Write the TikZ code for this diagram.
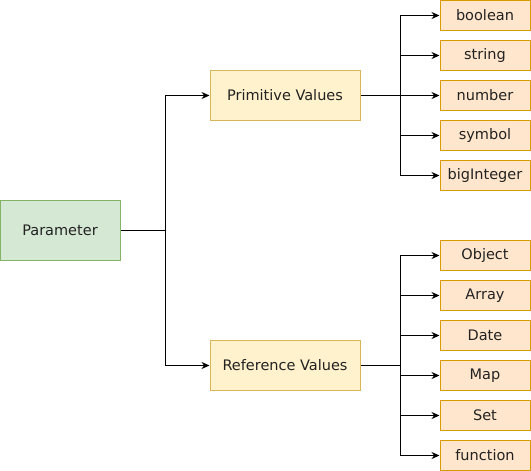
\documentclass[tikz,border=0pt]{standalone}
\usepackage{fontspec}
\setmainfont{DejaVu Sans}
\usetikzlibrary{arrows.meta}
\definecolor{gfill}{HTML}{D5E8D4}
\definecolor{gline}{HTML}{82B366}
\definecolor{yfill}{HTML}{FFF2CC}
\definecolor{yline}{HTML}{D6B656}
\definecolor{ofill}{HTML}{FFE6CC}
\definecolor{oline}{HTML}{D79B00}
\definecolor{txt}{HTML}{222222}
\begin{document}
\begin{tikzpicture}[x=1pt,y=-1pt,
  base/.style={draw,line width=1pt,inner sep=0pt,font=\fontsize{14.5}{17}\selectfont,text=txt},
  rootbox/.style={base,fill=gfill,draw=gline,minimum width=120pt,minimum height=60pt},
  midbox/.style={base,fill=yfill,draw=yline,minimum width=150pt,minimum height=50pt},
  leafbox/.style={base,fill=ofill,draw=oline,minimum width=90pt,minimum height=30pt},
  conn/.style={line width=1pt,-{Stealth[length=8pt,width=7pt]}},
  plain/.style={line width=1pt}]
\useasboundingbox (0,0) rectangle (531,471);
\node[rootbox] (param) at (60,230.5) {Parameter};
\node[midbox] (prim) at (285,95.5) {Primitive Values};
\node[midbox] (ref) at (285,365.5) {Reference Values};
\node[leafbox] (boolean) at (485,15.5) {boolean};
\node[leafbox] (string) at (485,55.5) {string};
\node[leafbox] (number) at (485,95.5) {number};
\node[leafbox] (symbol) at (485,135.5) {symbol};
\node[leafbox] (bigint) at (485,175.5) {bigInteger};
\node[leafbox] (object) at (485,255.5) {Object};
\node[leafbox] (array) at (485,295.5) {Array};
\node[leafbox] (date) at (485,335.5) {Date};
\node[leafbox] (map) at (485,375.5) {Map};
\node[leafbox] (set) at (485,415.5) {Set};
\node[leafbox] (func) at (485,455.5) {function};
\coordinate (j1) at (165,230.5);
\coordinate (j2) at (400,95.5);
\coordinate (j3) at (400,365.5);
\draw[plain] (param.east) -- (j1);
\draw[conn] (j1) |- (prim.west);
\draw[conn] (j1) |- (ref.west);
\draw[plain] (prim.east) -- (j2);
\foreach \n in {boolean,string,number,symbol,bigint} \draw[conn] (j2) |- (\n.west);
\draw[plain] (ref.east) -- (j3);
\foreach \n in {object,array,date,map,set,func} \draw[conn] (j3) |- (\n.west);
\end{tikzpicture}
\end{document}
